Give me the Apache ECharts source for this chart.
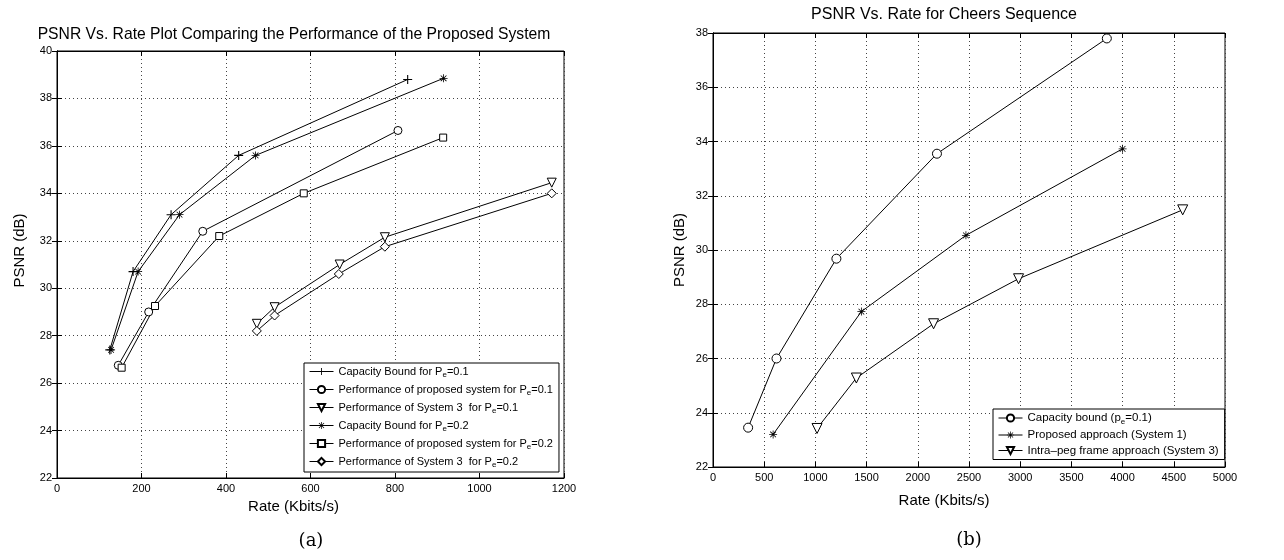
<!DOCTYPE html>
<html><head><meta charset="utf-8">
<script src="https://cdn.jsdelivr.net/npm/echarts@6/dist/echarts.min.js"></script>
<style>html,body{margin:0;padding:0;background:#fff}#c{width:1284px;height:560px}</style>
</head><body><div id="c"></div>
<script>
// ---------- Panel (a) data ----------
const capBound01Rate = [125, 180, 270, 430, 830];
const capBound01Psnr = [27.4, 30.7, 33.1, 35.6, 38.8];
const proposed01Rate = [145, 217, 345, 807];
const proposed01Psnr = [26.75, 29.0, 32.4, 36.65];
const system3_01Rate = [473, 515, 669, 776, 1171];
const system3_01Psnr = [28.5, 29.2, 31.0, 32.15, 34.45];
const capBound02Rate = [128, 192, 290, 470, 915];
const capBound02Psnr = [27.4, 30.7, 33.1, 35.6, 38.85];
const proposed02Rate = [153, 232, 384, 584, 914];
const proposed02Psnr = [26.65, 29.25, 32.2, 34.0, 36.35];
const system3_02Rate = [473, 515, 667, 776, 1171];
const system3_02Psnr = [28.2, 28.85, 30.6, 31.75, 34.0];
const namesA = [
  'Capacity Bound for Pe=0.1',
  'Performance of proposed system for Pe=0.1',
  'Performance of System 3  for Pe=0.1',
  'Capacity Bound for Pe=0.2',
  'Performance of proposed system for Pe=0.2',
  'Performance of System 3  for Pe=0.2'
];
const rateTicksA = {min: 0, max: 1200, interval: 200};
const psnrTicksA = {min: 22, max: 40, interval: 2};
const titleA = 'PSNR Vs. Rate Plot Comparing the Performance of the Proposed System';

// ---------- Panel (b) data ----------
const cheersCapRate = [343, 620, 1205, 2187, 3846];
const cheersCapPsnr = [23.45, 26.0, 29.68, 33.55, 37.8];
const cheersSys1Rate = [587, 1449, 2470, 4000];
const cheersSys1Psnr = [23.2, 27.73, 30.54, 33.73];
const cheersSys3Rate = [1016, 1400, 2154, 2984, 4587];
const cheersSys3Psnr = [23.42, 25.28, 27.28, 28.94, 31.48];
const namesB = [
  'Capacity bound (pe=0.1)',
  'Proposed approach (System 1)',
  'Intra\u2013peg frame approach (System 3)'
];
const rateTicksB = {min: 0, max: 5000, interval: 500};
const psnrTicksB = {min: 22, max: 38, interval: 2};
const titleB = 'PSNR Vs. Rate for Cheers Sequence';

// ---------- styling ----------
const FONT = 'Liberation Sans';
const PLUS = 'path://M4.4,0H5.6V10H4.4ZM0,4.4H10V5.6H0Z';
const STAR = 'path://M4.5,0H5.5V10H4.5ZM0,4.5H10V5.5H0ZM1.1,1.8L1.8,1.1L8.9,8.2L8.2,8.9ZM8.2,1.1L8.9,1.8L1.8,8.9L1.1,8.2Z';
const TRI = 'path://M0,0H10L5,8.7Z';

function zip(a, b) { return a.map((v, i) => [v, b[i]]); }
function mk(name, rates, psnrs, symbol, size, filled, xi, yi) {
  return {
    type: 'line', name, xAxisIndex: xi, yAxisIndex: yi,
    data: zip(rates, psnrs), symbol, symbolSize: size,
    lineStyle: {color: '#000', width: 1},
    itemStyle: filled ? {color: '#000', borderWidth: 0}
                      : {color: '#fff', borderColor: '#000', borderWidth: 1},
    emphasis: {disabled: true}, z: 3
  };
}
const plainNum = v => String(v);
function xAxes(grid, t, name, nameGap, shift) {
  return [{
    gridIndex: grid, type: 'value', position: 'bottom', min: t.min, max: t.max, interval: t.interval,
    name, nameLocation: 'middle', nameGap,
    nameTextStyle: {fontFamily: FONT, fontSize: 15, color: '#000', padding: [0, shift, 0, 0]},
    axisLine: {lineStyle: {color: '#000', width: 1}},
    axisTick: {inside: true, length: 5, lineStyle: {color: '#000'}},
    axisLabel: {fontFamily: FONT, fontSize: 11, color: '#000', margin: 5, formatter: plainNum},
    splitLine: {show: true, lineStyle: {type: [1, 3], color: '#444', width: 1}}
  }, {
    gridIndex: grid, type: 'value', position: 'top', min: t.min, max: t.max, interval: t.interval,
    axisLine: {lineStyle: {color: '#000'}},
    axisTick: {inside: true, length: 5, lineStyle: {color: '#000'}},
    axisLabel: {show: false}, splitLine: {show: false}
  }];
}
function yAxes(grid, t, nameGap, shiftUp) {
  return [{
    gridIndex: grid, type: 'value', position: 'left', min: t.min, max: t.max, interval: t.interval,
    name: 'PSNR (dB)', nameLocation: 'middle', nameGap,
    nameTextStyle: {fontFamily: FONT, fontSize: 15, color: '#000', padding: [0, 0, 0, shiftUp]},
    axisLine: {lineStyle: {color: '#000', width: 1}},
    axisTick: {inside: true, length: 5, lineStyle: {color: '#000'}},
    axisLabel: {fontFamily: FONT, fontSize: 11, color: '#000', margin: 5, formatter: plainNum},
    splitLine: {show: true, lineStyle: {type: [1, 3], color: '#444', width: 1}}
  }, {
    gridIndex: grid, type: 'value', position: 'right', min: t.min, max: t.max, interval: t.interval,
    axisLine: {lineStyle: {color: '#000'}},
    axisTick: {inside: true, length: 5, lineStyle: {color: '#000'}},
    axisLabel: {show: false}, splitLine: {show: false}
  }];
}
function legendFmt(n) { return n.replace(/([Pp])e=/, '$1{sub|e}='); }
function legendCfg(names, left, top, gap, fs) {
  return {
    data: names, orient: 'vertical', left, top,
    backgroundColor: '#fff', borderColor: '#000', borderWidth: 1,
    padding: [3, 6, 3, 5], itemGap: gap, itemWidth: 24, itemHeight: 9,
    selectedMode: false,
    lineStyle: {width: 1, color: '#000'},
    textStyle: {fontFamily: FONT, fontSize: fs, color: '#000',
      rich: {sub: {fontFamily: FONT, fontSize: 8, color: '#000', padding: [7, 0, 0, 0]}}},
    formatter: legendFmt
  };
}

const chart = echarts.init(document.getElementById('c'), null, {renderer: 'canvas'});
chart.setOption({
  animation: false,
  backgroundColor: '#fff',
  grid: [
    {left: 57, top: 51, width: 507, height: 427, show: true, borderColor: '#000', borderWidth: 1},
    {left: 713, top: 33, width: 512, height: 434, show: true, borderColor: '#000', borderWidth: 1}
  ],
  xAxis: [...xAxes(0, rateTicksA, 'Rate (Kbits/s)', 19, 34), ...xAxes(1, rateTicksB, 'Rate (Kbits/s)', 26, 50)],
  yAxis: [...yAxes(0, psnrTicksA, 30, 28), ...yAxes(1, psnrTicksB, 26, 0)],
  legend: [legendCfg(namesA, 304, 363, 5, 11), legendCfg(namesB, 993, 409, 3.5, 11.5)],
  graphic: [
    {type: 'text', x: 294, y: 35, style: {text: titleA, font: '15.7px "Liberation Sans"', fill: '#000', align: 'center', verticalAlign: 'middle'}},
    {type: 'text', x: 944, y: 15, style: {text: titleB, font: '16px "Liberation Sans"', fill: '#000', align: 'center', verticalAlign: 'middle'}},
    {type: 'text', x: 311, y: 541, style: {text: '(a)', font: '18px "DejaVu Serif"', fill: '#000', align: 'center', verticalAlign: 'middle'}},
    {type: 'text', x: 969, y: 540, style: {text: '(b)', font: '18px "DejaVu Serif"', fill: '#000', align: 'center', verticalAlign: 'middle'}}
  ],
  series: [
    mk(namesA[0], capBound01Rate, capBound01Psnr, PLUS, 9, true, 0, 0),
    mk(namesA[1], proposed01Rate, proposed01Psnr, 'circle', 8, false, 0, 0),
    mk(namesA[2], system3_01Rate, system3_01Psnr, TRI, 9, false, 0, 0),
    mk(namesA[3], capBound02Rate, capBound02Psnr, STAR, 8, true, 0, 0),
    mk(namesA[4], proposed02Rate, proposed02Psnr, 'rect', 7, false, 0, 0),
    mk(namesA[5], system3_02Rate, system3_02Psnr, 'diamond', 9, false, 0, 0),
    mk(namesB[0], cheersCapRate, cheersCapPsnr, 'circle', 9, false, 2, 2),
    mk(namesB[1], cheersSys1Rate, cheersSys1Psnr, STAR, 8, true, 2, 2),
    mk(namesB[2], cheersSys3Rate, cheersSys3Psnr, TRI, 10, false, 2, 2)
  ]
});
</script></body></html>
